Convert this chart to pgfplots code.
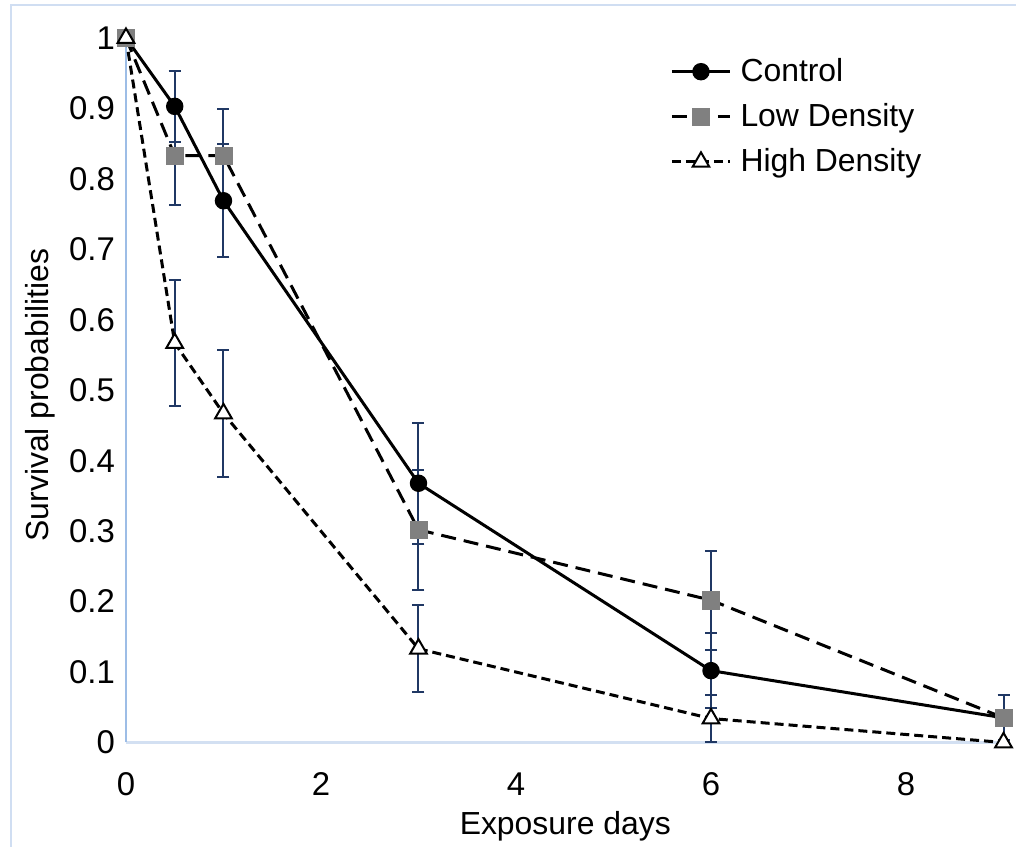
\documentclass[border=0pt]{standalone}
\usepackage{pgfplots}
\pgfplotsset{compat=1.18}
\usepackage{fontspec}
\setmainfont{Liberation Sans}

\definecolor{errblue}{HTML}{203864}
\definecolor{sqgray}{HTML}{808080}
\definecolor{yaxisblue}{HTML}{9DBDE6}
\definecolor{xaxisblue}{HTML}{D3E0F2}
\definecolor{frameblue}{HTML}{D0DEF2}

\begin{document}
\begin{tikzpicture}
\begin{axis}[
  width=438.5bp, height=352bp, scale only axis,
  xmin=0, xmax=9, ymin=0, ymax=1,
  clip=false,
  axis x line=bottom, axis y line=left,
  x axis line style={-, draw=xaxisblue, line width=1.2bp},
  y axis line style={-, draw=yaxisblue, line width=1.2bp},
  xtick={0,2,4,6,8},
  ytick={0,0.1,0.2,0.3,0.4,0.5,0.6,0.7,0.8,0.9,1},
  major tick length=0pt,
  /pgf/number format/assume math mode=true,
  tick label style={font=\fontsize{16.5}{19}\selectfont},
  yticklabel style={/pgf/number format/fixed, xshift=-2bp},
  xticklabel style={yshift=-11.5bp},
  every axis x label/.style={at={(axis description cs:0.5006,-0.119)}, anchor=center},
  every axis y label/.style={at={(axis description cs:-0.098,0.493)}, rotate=90, anchor=center},
  label style={font=\fontsize{16}{19}\selectfont},
  xlabel={Exposure days},
  ylabel={Survival probabilities},
  legend style={draw=none, fill=none, at={(axis cs:5.58,0.977)}, anchor=north west,
    font=\fontsize{16}{19}\selectfont, inner sep=0pt, row sep=5.5bp,
    nodes={inner ysep=2bp, inner xsep=4.5bp}},
  legend cell align=left,
  legend image code/.code={\draw[mark repeat=2,mark phase=2,#1] plot coordinates {(0bp,0bp) (14.5bp,0bp) (29bp,0bp)};},
]
% error bars (drawn first, under the markers)
\addplot[forget plot, only marks, mark=*, mark size=0pt, errblue,
  error bars/.cd, y dir=both, y explicit, error mark=|,
  error bar style={errblue, solid, line width=1bp},
  error mark options={errblue, solid, line width=1bp, mark size=3bp}]
  coordinates {
  (0.5,0.903) +- (0,0.050)
  (1,0.769) +- (0,0.080)
  (3,0.368) +- (0,0.086)
  (6,0.102) +- (0,0.053)
  (9,0.035) +- (0,0.032)
  (0.5,0.833) +- (0,0.070)
  (1,0.833) +- (0,0.066)
  (3,0.302) +- (0,0.085)
  (6,0.202) +- (0,0.070)
  (0.5,0.567) +- (0,0.090)
  (1,0.467) +- (0,0.090)
  (3,0.133) +- (0,0.062)
  (6,0.034) +- (0,0.033)
};

\addplot[black, line width=1.5bp, mark=*, mark size=3.6bp,
  mark options={solid, fill=black}] coordinates {
  (0,1) (0.5,0.903) (1,0.769) (3,0.368) (6,0.102) (9,0.035)
};
\addplot[black, line width=1.5bp, dash pattern=on 7.5bp off 4bp, mark=square*, mark size=4.3bp,
  mark options={solid, draw=sqgray, fill=sqgray, line width=0.2bp}] coordinates {
  (0,1) (0.5,0.833) (1,0.833) (3,0.302) (6,0.202) (9,0.035)
};
\addplot[black, line width=1.5bp, dash pattern=on 4.5bp off 2.5bp, mark=triangle*, mark size=4.8bp,
  mark options={solid, fill=white, draw=black, line width=1bp}] coordinates {
  (0,1) (0.5,0.567) (1,0.467) (3,0.133) (6,0.034) (9,0)
};
\legend{Control, Low Density, High Density}

\coordinate (BL) at (axis cs:-1.292,-0.1477);
\coordinate (TR) at (axis cs:9.128,1.054);
\coordinate (FL) at (axis cs:-1.179,1.0469);
\end{axis}
\pgfresetboundingbox
\path[use as bounding box] (BL) rectangle (TR);
\draw[frameblue, line width=1.2bp] (FL |- BL) -- (FL) -- (FL -| TR);
\end{tikzpicture}
\end{document}
